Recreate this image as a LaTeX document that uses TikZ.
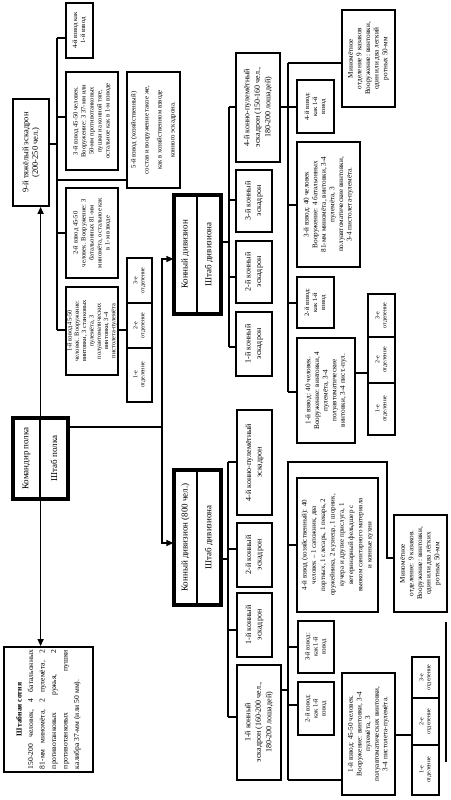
\documentclass[tikz,border=0pt]{standalone}
\usepackage{fontspec}
\setmainfont{Liberation Serif}
\usetikzlibrary{arrows.meta}
\newcommand{\fsS}{\fontsize{6.6}{8}\selectfont}
\newcommand{\fsT}{\fontsize{6.4}{7.3}\selectfont}
\newcommand{\fsM}{\fontsize{7.2}{8.6}\selectfont}
\newcommand{\fsE}{\fontsize{8}{10.5}\selectfont}
\newcommand{\fsB}{\fontsize{9}{10.5}\selectfont}
\newcommand{\fsO}{\fontsize{6}{7}\selectfont}
\newcommand{\mkbox}[7][]{%
  \pgfmathsetmacro\mkw{#6-#4}%
  \pgfmathsetmacro\mkh{#5-#3}%
  \pgfmathsetmacro\mkcx{(#3+#5)/2}%
  \pgfmathsetmacro\mkcy{(#4+#6)/2}%
  \node[box, minimum width=\mkw pt, minimum height=\mkh pt, #1] (#2) at (\mkcx,\mkcy) {#7};}
\tikzset{
  box/.style={draw, line width=1.8pt, rotate=90, align=center, inner sep=0.5pt, font=\fsS},
  cell/.style={line width=1.2pt},
  frame/.style={draw, line width=3.2pt},
  conn/.style={draw, line width=1.4pt},
  arr/.style={conn, -{Triangle[length=7pt,width=6pt]}},
}
\begin{document}
\begin{tikzpicture}[x=1pt,y=-1pt]
\fill[white] (0,0) rectangle (450,800);
\useasboundingbox (0,0) rectangle (450,800);

% ---------- left column ----------
\mkbox[font=\fontsize{8.5}{9.5}\selectfont]{tyazh}{13}{99}{49}{206}{9-й тяжёлый эскадрон\\(200-250 чел.)}
\mkbox[cell,font=\fsB]{kom}{13}{418}{40}{499}{Командир полка}
\mkbox[cell,font=\fsB]{shtabp}{40}{418}{68}{499}{Штаб полка}
\draw[frame] (13,418) rectangle (68,499);
\mkbox[font=\fontsize{7.6}{11.5}\selectfont, text width=119pt, align=justify]{sotnya}{4}{647}{93}{772}{\hfill\textbf{Штабная сотня}\hfill\null\par \mbox{150-200} человек, 4 батальонных\linebreak \mbox{81-мм} миномёта, 2 пулемёта, 2\linebreak противотанковых ружья, 2\linebreak противотанковых пушки\linebreak калибра \mbox{37-мм} (или 50 мм).}

% ---------- 9th squadron platoons ----------
\mkbox{v4a}{66}{3}{93}{58}{4-й взвод как\\1-й взвод}
\mkbox{v3a}{66}{72}{118}{170}{3-й взвод 45-50 человек.\\Вооружение: 3 37-мм или\\50-мм противотанковых\\пушки на конной тяге,\\остальное как в 1-м взводе}
\mkbox[font=\fontsize{6.8}{13}\selectfont]{v5a}{127}{72}{180}{188}{5-й взвод (хозяйственный)\\состав и вооружение такое же,\\как в хозяйственном взводе\\конного эскадрона.}
\mkbox{v2a}{66}{188}{118}{278}{2-й взвод 45-50\\человек. Вооружение: 3\\батальонных 81-мм\\миномёта, остальное как\\в 1-м взводе}
\mkbox[font=\fsT]{v1a}{66}{287}{118}{375}{1-й взвод 45-50\\человек. Вооружение:\\винтовки, 3 станковых\\пулемёта, 3\\полуавтоматических\\винтовки, 3-4\\пистолета-пулемёта}
\mkbox[cell,font=\fsO]{oA3}{127}{258}{152}{303}{3-е\\отделение}
\mkbox[cell,font=\fsO]{oA2}{127}{303}{152}{348}{2-е\\отделение}
\mkbox[cell,font=\fsO]{oA1}{127}{348}{152}{402}{1-е\\отделение}
\draw[line width=1.8pt] (127,258) rectangle (152,402);

% ---------- upper division ----------
\mkbox[cell,font=\fsB]{divAk}{174}{195}{197}{314}{Конный дивизион}
\mkbox[cell,font=\fsB]{divAs}{197}{195}{221}{314}{Штаб дивизиона}
\draw[frame] (174,195) rectangle (221,314);
\mkbox[font=\fsE]{esA4}{236}{53}{280}{162}{4-й конно-пулемётный\\эскадрон (150-160 чел.,\\180-200 лошадей)}
\mkbox[font=\fsE]{esA3}{236}{170}{272}{232}{3-й конный\\эскадрон}
\mkbox[font=\fsE]{esA2}{236}{241}{272}{303}{2-й конный\\эскадрон}
\mkbox[font=\fsE]{esA1}{236}{312}{272}{376}{1-й конный\\эскадрон}

\mkbox[font=\fsM]{minA}{342}{10}{395}{107}{Миномётное\\отделение 9 казаков\\Вооружение: винтовки,\\один или два легкий\\ротных 50-мм}
\mkbox{v4b}{297}{80}{334}{133}{4-й взвод:\\как 1-й\\взвод}
\mkbox[font=\fsM]{v3b}{297}{142}{360}{267}{3-й взвод: 40 человек\\Вооружение: 4 батальонных\\81-мм миномёта, винтовки, 3-4\\пулемёта, 3\\полуавтоматические винтовки,\\3-4 пистолета-пулемёта.}
\mkbox{v2b}{297}{277}{334}{328}{2-й взвод:\\как 1-й\\взвод}
\mkbox[font=\fsM]{v1b}{297}{338}{355}{443}{1-й взвод: 40 человек.\\Вооружение: винтовки, 4\\пулемёта, 3-4\\полуавтоматические\\винтовки, 3-4 пист.-пул.}
\mkbox[cell,font=\fsO]{oB3}{368}{294}{395}{337}{3-е\\отделение}
\mkbox[cell,font=\fsO]{oB2}{368}{337}{395}{383}{2-е\\отделение}
\mkbox[cell,font=\fsO]{oB1}{368}{383}{395}{435}{1-е\\отделение}
\draw[line width=1.8pt] (368,294) rectangle (395,435);

% ---------- lower division ----------
\mkbox[cell,font=\fsB]{divBk}{174}{470}{197}{605}{Конный дивизион (800 чел.)}
\mkbox[cell,font=\fsB]{divBs}{197}{470}{221}{605}{Штаб дивизиона}
\draw[frame] (174,470) rectangle (221,605);
\mkbox[font=\fsE]{esB4}{237}{410}{272}{515}{4-й конно-пулемётный\\эскадрон}
\mkbox[font=\fsE]{esB2}{237}{523}{272}{587}{2-й конный\\эскадрон}
\mkbox[font=\fsE]{esB1x}{237}{593}{272}{657}{1-й конный\\эскадрон}
\mkbox[font=\fsE]{esB1}{237}{665}{281}{780}{1-й конный\\эскадрон (160-200 чел.,\\180-200 лошадей)}

\mkbox[font=\fsM]{minB}{394}{515}{447}{612}{Миномётное\\отделение: 9 казаков.\\Вооружение: винтовки,\\один или два лёгких\\ротных 50-мм}
\mkbox[font=\fontsize{7}{9.3}\selectfont]{v4c}{297}{478}{378}{612}{4-й взвод (хозяйственный): 40\\человек – 1 сапожник, два\\портных, 1 слесарь, 1 пекарь, 2\\оружейника, 2 кузнеца, 1 шорник,\\кучера и другие прислуга, 1\\ветеринарный фельдшер с\\вьюком санитарного материала\\и конные кухни}
\mkbox{v3c}{298}{621}{334}{673}{3-й взвод:\\как 1-й\\взвод}
\mkbox{v2c}{298}{682}{334}{735}{2-й взвод:\\как 1-й\\взвод}
\mkbox[font=\fsM]{v1c}{342}{673}{395}{795}{1-й взвод: 45-50 человек.\\Вооружение: винтовки, 3-4\\пулемёта, 3\\полуавтоматических винтовки,\\3-4 пистолета-пулемёта.}
\mkbox[cell,font=\fsO]{oC3}{412}{657}{439}{698}{3-е\\отделение}
\mkbox[cell,font=\fsO]{oC2}{412}{698}{439}{745}{2-е\\отделение}
\mkbox[cell,font=\fsO]{oC1}{412}{745}{439}{795}{1-е\\отделение}
\draw[line width=1.8pt] (412,657) rectangle (439,795);

\draw[line width=1.2pt] (446,622) -- (446,762);

% ---------- connectors ----------
% regiment axis
\draw[arr] (kom.south east) -- (kom.south east |- tyazh.west);
\draw[arr] (kom.south west) -- (kom.south west |- sotnya.east);
\coordinate (bD) at (162,0);
\draw[conn] (shtabp.south |- 0,427) -- (bD |- 0,427);
\draw[arr] (bD |- 0,427) |- (divAk.north |- 0,259);
\draw[arr] (bD |- 0,427) |- (divBk.north |- 0,543);

% 9th squadron tree
\coordinate (bA) at (57,0);
\draw[conn] (tyazh.south |- 0,144) -- (bA |- 0,144);
\draw[conn] (bA |- 0,38) -- (bA |- 0,330);
\draw[conn] (bA |- 0,38) -- (v4a.north |- 0,38);
\draw[conn] (bA |- 0,117) -- (v3a.north |- 0,117);
\draw[conn] (bA |- 0,180) -- (v5a.north |- 0,180);
\draw[conn] (bA |- 0,233) -- (v2a.north |- 0,233);
\draw[conn] (bA |- 0,330) -- (v1a.north |- 0,330);
\draw[conn] (v1a.south |- 0,330) -- (oA2.north |- 0,330);

% upper division tree
\coordinate (bB) at (229,0);
\draw[conn] (divAs.south |- 0,242) -- (bB |- 0,242);
\draw[conn] (bB |- 0,107) -- (bB |- 0,347);
\draw[conn] (bB |- 0,107) -- (esA4.north |- 0,107);
\draw[conn] (bB |- 0,200) -- (esA3.north |- 0,200);
\draw[conn] (bB |- 0,277) -- (esA2.north |- 0,277);
\draw[conn] (bB |- 0,347) -- (esA1.north |- 0,347);

% upper machine-gun squadron tree
\coordinate (bC) at (288,0);
\draw[conn] (esA4.south |- 0,107) -- (v4b.north |- 0,107);
\draw[conn] (bC |- 0,63) -- (bC |- 0,392);
\draw[conn] (bC |- 0,63) -- (minA.north |- 0,63);
\draw[conn] (bC |- 0,205) -- (v3b.north |- 0,205);
\draw[conn] (bC |- 0,303) -- (v2b.north |- 0,303);
\draw[conn] (bC |- 0,392) -- (v1b.north |- 0,392);
\draw[conn] (v1b.south |- 0,373) -- (oB2.north |- 0,373);

% lower division tree
\coordinate (bE) at (228,0);
\draw[conn] (divBs.south |- 0,559) -- (bE |- 0,559);
\draw[conn] (bE |- 0,462) -- (bE |- 0,717);
\draw[conn] (bE |- 0,462) -- (esB4.north |- 0,462);
\draw[conn] (bE |- 0,549) -- (esB2.north |- 0,549);
\draw[conn] (bE |- 0,630) -- (esB1x.north |- 0,630);
\draw[conn] (bE |- 0,717) -- (esB1.north |- 0,717);

% lower 1st squadron tree
\coordinate (bF) at (288,0);
\coordinate (bG) at (387,0);
\draw[conn] (esB1.south |- 0,690) -- (bF |- 0,690);
\draw[conn] (bF |- 0,780) -- (bF |- 0,462) -- (bG |- 0,462) -- (bG |- 0,558) -- (minB.north |- 0,558);
\draw[conn] (bF |- 0,545) -- (v4c.north |- 0,545);
\draw[conn] (bF |- 0,647) -- (v3c.north |- 0,647);
\draw[conn] (bF |- 0,705) -- (v2c.north |- 0,705);
\draw[conn] (bF |- 0,780) -- (v1c.north |- 0,780);
\draw[conn] (v1c.south |- 0,735) -- (oC2.north |- 0,735);
\end{tikzpicture}
\end{document}
